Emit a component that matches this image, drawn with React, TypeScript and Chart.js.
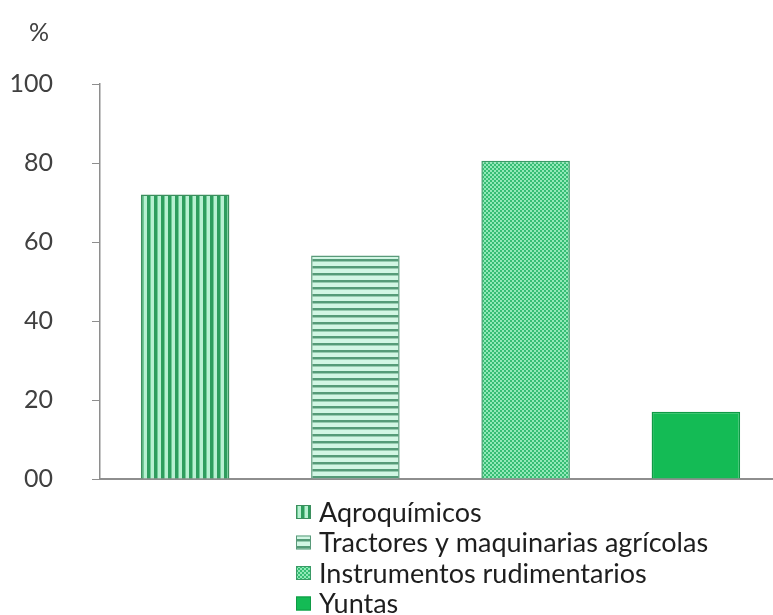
import React, { useEffect, useRef } from "react";
import { Chart, registerables } from "chart.js";
Chart.register(...registerables);

const categories = [
  "Aqroquímicos",
  "Tractores y maquinarias agrícolas",
  "Instrumentos rudimentarios",
  "Yuntas",
];
const values = [72, 56.6, 80.6, 17];
const yTicks = [0, 20, 40, 60, 80, 100];
const yTickLabels = ["00", "20", "40", "60", "80", "100"];
const axisTitle = "%";

function makePattern(kind: string): CanvasPattern | string {
  const c = document.createElement("canvas");
  const g = c.getContext("2d")!;
  if (kind === "vstripe") {
    c.width = 7; c.height = 1;
    g.fillStyle = "#b8f0d2"; g.fillRect(0, 0, 7, 1);
    g.fillStyle = "#2e9d5e"; g.fillRect(0, 0, 3, 1);
    g.fillStyle = "#6fcb96"; g.fillRect(3, 0, 1, 1);
  } else if (kind === "hstripe") {
    c.width = 1; c.height = 7;
    g.fillStyle = "#d2f6e4"; g.fillRect(0, 0, 1, 7);
    g.fillStyle = "#559b78"; g.fillRect(0, 0, 1, 2);
    g.fillStyle = "#96cbb0"; g.fillRect(0, 2, 1, 1);
  } else if (kind === "dots") {
    c.width = 4; c.height = 4;
    g.fillStyle = "#36bd74"; g.fillRect(0, 0, 4, 4);
    g.fillStyle = "#92e9b8"; g.fillRect(0, 0, 2, 2); g.fillRect(2, 2, 2, 2);
  } else {
    return "#14bb55";
  }
  return g.createPattern(c, "repeat")!;
}

const overlayPlugin = {
  id: "overlay",
  afterDraw(chart: any) {
    const ctx = chart.ctx as CanvasRenderingContext2D;
    const ds = chart.data.datasets[0];
    ctx.save();
    ctx.textBaseline = "middle";
    ctx.textAlign = "left";
    ctx.font = "27px Lato";
    (chart.data.labels as string[]).forEach((lab, i) => {
      const y = 512 + i * 30.5;
      ctx.fillStyle = ds.backgroundColor[i];
      ctx.fillRect(296, y - 7, 15, 14);
      ctx.strokeStyle = ds.borderColor[i];
      ctx.lineWidth = 1;
      ctx.strokeRect(296.5, y - 6.5, 14, 13);
      ctx.fillStyle = "#1e1e1e";
      ctx.fillText(lab, 319, y + 1);
    });
    ctx.fillStyle = "#404040";
    ctx.font = "25px Lato";
    ctx.fillText(axisTitle, 29, 33);
    ctx.restore();
  },
};

export default function App() {
  const ref = useRef<HTMLCanvasElement>(null);
  useEffect(() => {
    const canvas = ref.current!;
    const patterns = [makePattern("vstripe"), makePattern("hstripe"), makePattern("dots"), makePattern("solid")];
    const chart = new Chart(canvas, {
      type: "bar",
      data: {
        labels: categories,
        datasets: [
          {
            data: values,
            backgroundColor: patterns as any,
            borderColor: ["#3c8f5e", "#5a9a7a", "#3a9a66", "#0f9a45"],
            borderWidth: 1.5,
            borderSkipped: "bottom",
            barPercentage: 0.52,
            categoryPercentage: 1,
          },
        ],
      },
      options: {
        responsive: false,
        animation: false,
        layout: { padding: { top: 84, bottom: 136, left: 0, right: 9 } },
        plugins: { legend: { display: false }, tooltip: { enabled: false }, title: { display: false } },
        scales: {
          x: {
            ticks: { display: false },
            grid: { display: true, drawOnChartArea: false, drawTicks: false },
            border: { display: true, color: "#8e8e8e", width: 2 },
            afterFit: (s: any) => { s.height = 0; },
          },
          y: {
            min: 0,
            max: 100,
            afterBuildTicks: (s: any) => { s.ticks = yTicks.map((v) => ({ value: v })); },
            ticks: {
              padding: 39,
              color: "#404040",
              font: { family: "Lato", size: 25 },
              callback: (v: any) => yTickLabels[yTicks.indexOf(Number(v))] ?? "",
            },
            grid: { display: true, drawOnChartArea: false, drawTicks: true, tickLength: 8, color: "#8e8e8e", lineWidth: 1 },
            border: { display: true, color: "#8e8e8e", width: 1.5 },
            afterFit: (s: any) => { s.width = 100; },
          },
        },
      },
      plugins: [overlayPlugin],
    });
    return () => chart.destroy();
  }, []);
  return (
    <div style={{ position: "absolute", left: 0, top: 0, width: 773, height: 615, overflow: "hidden", background: "#fff" }}>
      <canvas ref={ref} width={790} height={615} style={{ display: "block" }} />
    </div>
  );
}
